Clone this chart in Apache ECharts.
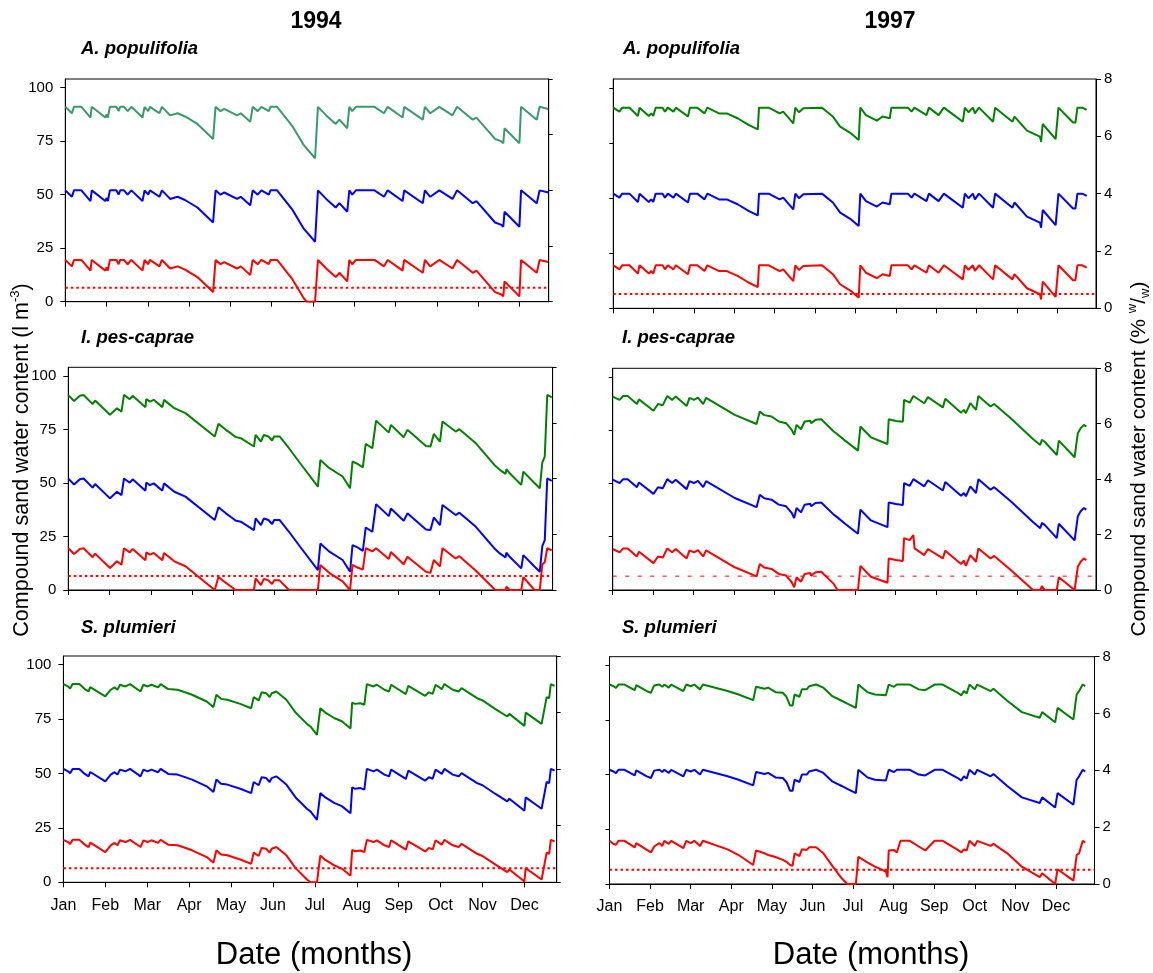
<!DOCTYPE html>
<html>
<head>
<meta charset="utf-8">
<title>Compound sand water content 1994 / 1997</title>
<script src="https://cdn.jsdelivr.net/npm/echarts@6/dist/echarts.min.js"></script>
<style>
  html, body { margin: 0; padding: 0; background: #fff; }
  #chart { width: 1153px; height: 973px; }
</style>
</head>
<body>
<div id="chart"></div>
<script>
// ---- axis ticks and labels ----
const monthNames = ['Jan', 'Feb', 'Mar', 'Apr', 'May', 'Jun', 'Jul', 'Aug', 'Sep', 'Oct', 'Nov', 'Dec'];
const monthTicks = [0, 1, 2, 3, 4, 5, 6, 7, 8, 9, 10, 11];
const lm3Ticks = [0, 25, 50, 75, 100];   // l m-3
const pctTicks = [0, 2, 4, 6, 8];        // % w/w

// threshold (dotted line)
const wiltLm3 = 6.5;
const wiltPct = 0.5;

// ---- 1994, A. populifolia (l m-3); x in months from 1 Jan ----
const apX94 = [0,0.16,0.21,0.39,0.61,0.64,0.97,1.00,1.03,1.08, 1.24,1.29,1.33,1.42,1.51, 1.60,1.87,1.92,2.01,2.05, 2.28,2.34,2.54,2.72,2.90, 3.20,3.58,3.64,3.76,3.85, 4.16,4.25,4.48,4.54,4.66, 4.75,4.93,4.97,5.13,5.50, 5.78,5.85,6.05,6.12,6.32, 6.55,6.64,6.83,6.88,6.95, 7.04,7.49,7.72,7.81,8.17, 8.21,8.66,8.71,8.84,9.06, 9.38,9.49,9.87,9.96,10.41, 10.55,10.61,10.64,11.00,11.04, 11.42,11.49,11.70];
const apHi94 = [91,88,91,91,86,91,86,87.5,86,91, 91,89,91,91,89, 91,86,91,89,91, 88,91,87,88,86.5, 83,76,91,89,90, 87,88,84,91,89, 91,89,91,91,82, 73,71.5,67,91,87, 83,85,81,91,89, 91,91,88,91,86, 91,85,91,88,91, 87,91,85,86,76, 75,74,81,74,91, 85,91,90];
const apMid94 = [52,49,52,52,47,52,47,48.5,47,52, 52,50,52,52,50, 52,47,52,50,52, 49,52,48,49,47.5, 44,37,52,50,51, 48,49,45,52,50, 52,50,52,52,43, 34,32.5,28,52,48, 44,46,42,52,50, 52,52,49,52,47, 52,46,52,49,52, 48,52,46,47,37, 36,35,42,35,52, 46,52,51];
const apLo94 = [19.5,16.5,19.5,19.5,14.5,19.5,14.5,16,14.5,19.5, 19.5,17.5,19.5,19.5,17.5, 19.5,14.5,19.5,17.5,19.5, 16.5,19.5,15.5,16.5,15, 11.5,4.5,19.5,17.5,18.5, 15.5,16.5,12.5,19.5,17.5, 19.5,17.5,19.5,19.5,10.5, 1.5,0,0,19.5,15.5, 11.5,13.5,9.5,19.5,17.5, 19.5,19.5,16.5,19.5,14.5, 19.5,13.5,19.5,16.5,19.5, 15.5,19.5,13.5,14.5,4.5, 3.5,2.5,9.5,2.5,19.5, 13.5,19.5,18.5];

// ---- 1997, A. populifolia (% w/w) ----
const apX97 = [0,0.15,0.22,0.40,0.61,0.65,0.88,0.94,0.99,1.05, 1.22,1.28,1.35,1.49,1.55, 1.85,1.90,2.08,2.26,2.33, 2.62,2.81,3.08,3.35,3.58, 3.61,3.85,4.12,4.21,4.46, 4.51,4.60,4.71,5.17,5.44, 5.62,5.89,6.08,6.12,6.26, 6.53,6.67,6.85,6.89,7.30, 7.39,7.46,7.76,7.82,8.06, 8.19,8.44,8.66,8.71,8.80, 8.91,8.96,9.06,9.41,9.46, 9.89,9.94,10.25,10.57,10.60, 10.64,10.96,11.03,11.39,11.45, 11.50,11.62,11.73];
const apHi97 = [7.0,6.86,7.0,7.0,6.71,7.0,6.71,6.8,6.71,7.0, 7.0,6.86,7.0,6.86,7.0, 6.69,7.0,7.0,6.8,7.0, 6.8,6.8,6.63,6.4,6.24, 7.0,7.0,6.8,6.86,6.45, 7.0,6.84,6.98,7.0,6.69, 6.34,6.1,5.87,7.0,6.74, 6.55,6.69,6.63,7.0,7.0, 6.86,7.0,6.74,7.0,6.74, 7.0,6.74,6.51,7.0,6.84, 7.0,6.8,7.0,6.51,7.0, 6.51,6.69,6.2,5.99,5.81, 6.43,5.9,7.0,6.48,6.48, 7.0,7.0,6.92];
const apMid97 = [4.0,3.86,4.0,4.0,3.71,4.0,3.71,3.8,3.71,4.0, 4.0,3.86,4.0,3.86,4.0, 3.69,4.0,4.0,3.8,4.0, 3.8,3.8,3.63,3.4,3.24, 4.0,4.0,3.8,3.86,3.45, 4.0,3.84,3.98,4.0,3.69, 3.34,3.1,2.87,4.0,3.74, 3.55,3.69,3.63,4.0,4.0, 3.86,4.0,3.74,4.0,3.74, 4.0,3.74,3.51,4.0,3.84, 4.0,3.8,4.0,3.51,4.0, 3.51,3.69,3.2,2.99,2.81, 3.43,2.9,4.0,3.48,3.48, 4.0,4.0,3.92];
const apLo97 = [1.5,1.36,1.5,1.5,1.21,1.5,1.21,1.3,1.21,1.5, 1.5,1.36,1.5,1.36,1.5, 1.19,1.5,1.5,1.3,1.5, 1.3,1.3,1.13,0.9,0.74, 1.5,1.5,1.3,1.36,0.95, 1.5,1.34,1.48,1.5,1.19, 0.84,0.6,0.37,1.5,1.24, 1.05,1.19,1.13,1.5,1.5, 1.36,1.5,1.24,1.5,1.24, 1.5,1.24,1.01,1.5,1.34, 1.5,1.3,1.5,1.01,1.5, 1.01,1.19,0.7,0.49,0.31, 0.93,0.4,1.5,0.98,0.98, 1.5,1.5,1.42];

// ---- 1994, I. pes-caprae (l m-3) ----
const ipX94 = [0,0.14,0.28,0.37,0.59,0.65,1.01,1.18,1.29,1.35, 1.49,1.56,1.87,1.89,1.98, 2.07,2.28,2.32,2.57,2.84, 3.55,3.64,3.82,3.95,4.05, 4.18,4.50,4.54,4.67,4.74, 4.85,4.94,4.99,5.12,5.35, 5.62,6.05,6.11,6.33,6.65, 6.83,6.89,7.01,7.14,7.21, 7.37,7.46,7.77,7.82,8.13, 8.22,8.67,8.78,8.86,9.01, 9.07,9.39,9.48,9.88,10.35, 10.46,10.60,10.62,10.70,10.98, 11.03,11.30,11.43,11.49,11.55, 11.61,11.72];
const ipHi94 = [91,88.3,90.7,91.1,86.8,88.5,81.8,84.9,83.3,91.1, 89.1,90.7,85.4,89.1,88.0, 88.8,85.4,88.8,84.9,82.6, 71.7,77.6,74.8,73,71.5, 70.9,67.0,72.4,69.3,72.4, 71.7,69.8,71.7,71.7,66.2, 59.2,48.3,60.7,56.9,53.0, 47.5,60.0,58.9,57.3,68.2, 66.2,79.1,73.5,77.1,71.3, 74.8,67.3,67.0,72.9,69.3, 78.7,74.0,75.1,68.5,58, 56.1,54.2,56.4,54.5,49.1, 55.3,50,47.5,59.5,62.3, 91.1,90.0];
const ipMid94 = [52,49.3,51.7,52.1,47.8,49.5,42.8,45.9,44.3,52.1, 50.1,51.7,46.4,50.1,49, 49.8,46.4,49.8,45.9,43.6, 32.7,38.6,35.8,34,32.5, 31.9,28,33.4,30.3,33.4, 32.7,30.8,32.7,32.7,27.2, 20.2,9.3,21.7,17.9,14, 8.5,21,19.9,18.3,29.2, 27.2,40.1,34.5,38.1,32.3, 35.8,28.3,28,33.9,30.3, 39.7,35,36.1,29.5,19, 17.1,15.2,17.4,15.5,10.1, 16.3,11,8.5,20.5,23.3, 52.1,51];
const ipLo94 = [19.5,16.8,19.2,19.5,15.3,17,10.3,13.4,11.8,19.5, 17.6,19.2,13.9,17.6,16.5, 17.3,13.9,17.3,13.4,11.1, 0,6.1,3.3,1.5,0, 0,0,5.4,2.3,5.2, 4.5,2.8,4.5,4.5,0, 0,0,11.7,7.9,4, 0,11.7,10.5,9.5,19.5, 18,19.5,14.5,17.7,12, 15.5,8.5,8,14,11, 19.5,14.7,15.8,9,0, 0,0,1.5,0,0, 6,0,0,12,13, 19.5,18.5];

// ---- 1997, I. pes-caprae (% w/w) ----
const ipX97 = [0,0.17,0.26,0.37,0.60,0.65,1.01,1.12,1.24,1.35, 1.47,1.56,1.83,1.90,2.01, 2.11,2.24,2.31,3.02,3.56, 3.64,3.75,3.93,4.11,4.29, 4.43,4.49,4.55,4.66,4.75, 4.89,4.91,5.02,5.16,5.47, 5.56,5.75,6.07,6.13,6.39, 6.80,6.83,7.01,7.18,7.21,7.35, 7.44,7.47,7.71,7.80,8.17, 8.23,8.62,8.69,8.74,8.85, 8.99,9.05,9.35,9.44,9.85, 10.40,10.58,10.62,10.69,10.99, 11.04,11.43,11.51,11.58,11.66, 11.72];
const ipHi97 = [6.98,6.86,7.0,7.0,6.71,6.88,6.47,6.71,6.67,7.0, 6.86,6.98,6.64,6.93,6.86, 6.94,6.71,6.93,6.32,5.99, 6.44,6.31,6.26,6.08,6.02, 5.78,5.6,5.96,5.8,6.08, 6.11,6.02,6.14,6.16,5.72, 5.62,5.39,5.03,5.9,5.51, 5.27,6.16,6.1,6.07,6.86,6.76, 7.0,6.96,6.74,6.96,6.59, 6.9,6.4,6.5,6.38,6.74, 6.5,7.0,6.62,6.71,6.2, 5.45,5.23,5.42,5.35,4.87, 5.39,4.79,5.66,5.84,5.96, 5.9];
const ipMid97 = [3.98,3.86,4.0,4.0,3.71,3.88,3.47,3.71,3.67,4.0, 3.86,3.98,3.64,3.93,3.86, 3.94,3.71,3.93,3.32,2.99, 3.44,3.31,3.26,3.08,3.02, 2.78,2.6,2.96,2.8,3.08, 3.11,3.02,3.14,3.16,2.72, 2.62,2.39,2.03,2.9,2.51, 2.27,3.16,3.1,3.07,3.86,3.76, 4.0,3.96,3.74,3.96,3.59, 3.9,3.4,3.5,3.38,3.74, 3.5,4.0,3.62,3.71,3.2, 2.45,2.23,2.42,2.35,1.87, 2.39,1.79,2.66,2.84,2.96, 2.9];
const ipLo97 = [1.48,1.36,1.5,1.5,1.21,1.38,0.97,1.21,1.17,1.5, 1.36,1.48,1.14,1.43,1.36, 1.44,1.21,1.43,0.82,0.49, 0.94,0.81,0.76,0.58,0.52, 0.28,0.1,0.46,0.3,0.58, 0.61,0.52,0.64,0.66,0.22, 0,0,0,0.87,0.48, 0.26,1.14,1.08,1.05,1.87,1.8, 1.98,1.5,1.26,1.48,1.14, 1.42,0.94,1.06,0.87,1.26, 1.02,1.5,1.14,1.23,0.72, 0,0,0.14,0,0, 0.46,0,0.84,1.02,1.14, 1.08];

// ---- 1994, S. plumieri (l m-3) ----
const spX94 = [0,0.11,0.16,0.22,0.38,0.51,0.60,0.64,1.00,1.04, 1.13,1.22,1.29,1.35,1.48, 1.59,1.84,1.91,2.01,2.10, 2.26,2.32,2.50,2.72,2.85, 3.07,3.42,3.58,3.65,3.76, 3.91,4.22,4.48,4.54,4.66, 4.73,4.84,4.92,4.97,5.08, 5.32,5.54,5.81,5.90,6.05, 6.13,6.25,6.47,6.56,6.65, 6.85,6.89,6.95,7.09,7.18, 7.24,7.40,7.48,7.66,7.77, 7.82,8.17,8.23,8.63,8.72, 8.81,8.88,9.03,9.09,9.29, 9.43,9.50,9.87,10.00,10.31, 10.59,10.64,11.00,11.03,11.41, 11.53,11.59,11.63,11.72];
const spHi94 = [91.1,90.0,89.1,91.1,91.1,88.8,87.7,89.7,85.4,86.2, 88.5,89.6,88.5,90.8,90.0, 91.1,87.7,90.8,90.0,90.8, 89.6,91.1,88.8,88.5,87.7, 86.2,83.1,80.5,86.2,84.3, 83.9,82.0,80.0,85.1,83.6, 87.3,86.9,85.1,86.9,87.7, 83.9,78.0,72.8,71.5,67.7, 80.0,78.0,75.4,74.7,73.9, 70.7,82.6,82.0,82.3,81.6, 91.1,90.0,90.8,88.5,87.7, 90.8,86.5,90.3,85.7,87.3, 86.6,90.8,88.8,91.1,88.5, 87.7,89.2,84.6,83.6,79.6, 76.2,77.4,71.9,78.0,72.8, 85.1,84.6,91.1,90.3];
const spMid94 = [52.1,51,50.1,52.1,52.1,49.8,48.7,50.7,46.4,47.2, 49.5,50.6,49.5,51.8,51, 52.1,48.7,51.8,51,51.8, 50.6,52.1,49.8,49.5,48.7, 47.2,44.1,41.5,47.2,45.3, 44.9,43,41,46.1,44.6, 48.3,47.9,46.1,47.9,48.7, 44.9,39,33.8,32.5,28.7, 41,39,36.4,35.7,34.9, 31.7,43.6,43,43.3,42.6, 52.1,51,51.8,49.5,48.7, 51.8,47.5,51.3,46.7,48.3, 47.6,51.8,49.8,52.1,49.5, 48.7,50.2,45.6,44.6,40.6, 37.2,38.4,32.9,39,33.8, 46.1,45.6,52.1,51.3];
const spLo94 = [19.5,18.5,17.6,19.5,19.5,17.3,16.2,18.2,13.9,14.7, 17,18.1,17,19.3,18.5, 19.5,16.2,19.3,18.5,19.3, 18.1,19.5,17.3,17,16.2, 14.7,11.6,9,14.7,12.8, 12.4,10.5,8.5,13.6,12.1, 15.8,15.4,13.6,15.4,16.2, 12.4,6.5,1.3,0,0, 12.3,10.3,7.7,7,6.2, 3,14.9,14.3,14.6,13.9, 19.5,18.5,19.3,17,16.2, 19.3,15,18.8,14.2,15.8, 15.1,19.3,17.3,19.5,17, 16.2,17.7,13.1,12.1,8.1, 4.7,5.9,0.4,6.5,1.3, 13.6,13.1,19.5,18.8];

// ---- 1997, S. plumieri (% w/w) ----
const spX97 = [0,0.10,0.16,0.22,0.37,0.62,0.66,0.92,1.02,1.10, 1.23,1.30,1.35,1.46,1.52, 1.82,1.89,2.00,2.09,2.23, 2.30,2.91,3.18,3.54,3.61, 3.82,3.91,4.09,4.27,4.36, 4.45,4.51,4.56,4.68,4.71, 4.74,4.86,4.92,5.09,5.27, 5.49,5.72,5.86,6.07,6.13, 6.36,6.54,6.81,6.85,6.88, 7.01,7.08,7.17,7.40,7.62, 7.78,8.01,8.21,8.58,8.67, 8.73,8.80,8.87,9.00,9.06, 9.39,9.46,9.80,10.16,10.60, 10.66,10.98,11.04,11.43,11.51, 11.57,11.66,11.72];
const spHi97 = [7.02,6.96,6.9,7.02,7.02,6.82,7.0,6.79,6.73,6.99, 7.02,6.94,7.02,6.91,7.02, 6.79,7.02,6.96,7.02,6.85, 7.02,6.79,6.67,6.47,6.94, 6.87,6.91,6.75,6.73,6.59, 6.28,6.28,6.67,6.59,6.52, 6.85,6.85,6.96,7.02,6.91, 6.61,6.45,6.35,6.2,7.02, 6.75,6.67,6.64,6.61,7.02, 6.94,7.02,7.02,7.02,6.85, 6.82,7.02,7.02,6.73,6.64, 6.79,6.71,7.02,6.85,7.02, 6.79,6.87,6.45,6.05,5.85, 6.05,5.69,6.2,5.79,6.67, 6.79,7.02,6.96];
const spMid97 = [4.02,3.96,3.9,4.02,4.02,3.82,4.0,3.79,3.73,3.99, 4.02,3.94,4.02,3.91,4.02, 3.79,4.02,3.96,4.02,3.85, 4.02,3.79,3.67,3.47,3.94, 3.87,3.91,3.75,3.73,3.59, 3.28,3.28,3.67,3.59,3.52, 3.85,3.85,3.96,4.02,3.91, 3.61,3.45,3.35,3.2,4.02, 3.75,3.67,3.64,3.61,4.02, 3.94,4.02,4.02,4.02,3.85, 3.82,4.02,4.02,3.73,3.64, 3.79,3.71,4.02,3.85,4.02, 3.79,3.87,3.45,3.05,2.85, 3.05,2.69,3.2,2.79,3.67, 3.79,4.02,3.96];
const spLo97 = [1.52,1.41,1.38,1.52,1.52,1.29,1.44,1.2,1.11,1.32, 1.44,1.34,1.52,1.41,1.52, 1.26,1.52,1.44,1.52,1.34, 1.52,1.22,1.02,0.67,1.18, 1.08,1.02,0.95,0.85,0.78, 0.67,0.64,1.08,0.98,0.94, 1.22,1.2,1.29,1.29,1.08, 0.64,0.2,0,0,0.96, 0.75,0.61,0.44,0.24,1.18, 1.2,1.11,1.52,1.52,1.32, 1.18,1.52,1.52,1.2,1.11, 1.22,1.18,1.52,1.34,1.52, 1.34,1.41,1.08,0.61,0.24, 0.38,0,0.52,0.12,1.02, 1.08,1.52,1.46];

// ---- layout ----
const FONT = '"Liberation Sans", Arial, Helvetica, sans-serif';
const RED = '#ff0000', BLUE = '#0000ff', GREEN = '#008000', TEAL = '#3b9a6b';

const panels = [
  { rect: { left: 65.3,  top: 79,    width: 483.4, height: 222.7 }, xMax: 11.71, unit: 'lm3', bottom: false,
    title: 'A. populifolia', titleXY: [81, 49],  x: apX94, hi: apHi94, mid: apMid94, lo: apLo94, hiColor: TEAL },
  { rect: { left: 613.3, top: 79,    width: 482.7, height: 229.3 }, xMax: 11.96, unit: 'pct', bottom: false,
    title: 'A. populifolia', titleXY: [623, 49], x: apX97, hi: apHi97, mid: apMid97, lo: apLo97, hiColor: GREEN },
  { rect: { left: 68.3,  top: 367.3, width: 484.3, height: 222.7 }, xMax: 11.74, unit: 'lm3', bottom: false,
    title: 'I. pes-caprae', titleXY: [81, 338],  x: ipX94, hi: ipHi94, mid: ipMid94, lo: ipLo94, hiColor: GREEN },
  { rect: { left: 612.7, top: 368.3, width: 483.3, height: 221.7 }, xMax: 11.96, unit: 'pct', bottom: false,
    title: 'I. pes-caprae', titleXY: [622, 338], x: ipX97, hi: ipHi97, mid: ipMid97, lo: ipLo97, hiColor: GREEN,
    thinThreshold: true },
  { rect: { left: 63.4,  top: 656,   width: 493.3, height: 226.3 }, xMax: 11.77, unit: 'lm3', bottom: true,
    title: 'S. plumieri', titleXY: [81, 628],    x: spX94, hi: spHi94, mid: spMid94, lo: spLo94, hiColor: GREEN },
  { rect: { left: 609.5, top: 656.7, width: 485,   height: 227.3 }, xMax: 11.95, unit: 'pct', bottom: true,
    title: 'S. plumieri', titleXY: [622, 628],   x: spX97, hi: spHi97, mid: spMid97, lo: spLo97, hiColor: GREEN }
];

const pairs = (xs, ys) => xs.map((x, i) => [x, ys[i]]);

const grids = [], xAxes = [], yAxes = [], series = [];

panels.forEach((p, i) => {
  grids.push(Object.assign({
    show: true, borderColor: '#000', borderWidth: 1, backgroundColor: 'transparent',
    containLabel: false, outerBoundsMode: 'none'
  }, p.rect));

  xAxes.push({
    gridIndex: i, type: 'value', min: 0, max: p.xMax,
    axisLine: { show: true, onZero: false, lineStyle: { color: '#000', width: 1 } },
    axisTick: { show: true, inside: false, length: 5, customValues: monthTicks, lineStyle: { color: '#000', width: 1 } },
    axisLabel: {
      show: p.bottom, customValues: monthTicks, margin: 15, fontSize: 16, color: '#000', fontFamily: FONT,
      formatter: v => monthNames[Math.round(v)] || ''
    },
    splitLine: { show: false }
  });

  const leftLabels = p.unit === 'lm3';
  yAxes.push({
    gridIndex: i, type: 'value', position: 'left', min: 0, max: 104,
    axisLine: { show: true, onZero: false, lineStyle: { color: '#000', width: 1 } },
    axisTick: { show: true, inside: false, length: leftLabels ? 5 : 4, customValues: lm3Ticks, lineStyle: { color: '#000' } },
    axisLabel: { show: leftLabels, customValues: lm3Ticks, margin: 12, fontSize: 15, color: '#000', fontFamily: FONT },
    splitLine: { show: false }
  });
  yAxes.push({
    gridIndex: i, type: 'value', position: 'right', min: 0, max: 8,
    axisLine: { show: true, onZero: false, lineStyle: { color: '#000', width: 1 } },
    axisTick: { show: true, inside: false, length: leftLabels ? 4 : 5, customValues: pctTicks, lineStyle: { color: '#000' } },
    axisLabel: { show: !leftLabels, customValues: pctTicks, margin: 8, fontSize: 15, color: '#000', fontFamily: FONT },
    splitLine: { show: false }
  });

  const yIdx = leftLabels ? 2 * i : 2 * i + 1;
  const thr = leftLabels ? wiltLm3 : wiltPct;
  const base = { type: 'line', xAxisIndex: i, yAxisIndex: yIdx, showSymbol: false, symbol: 'none',
                 silent: true, animation: false, clip: true };

  series.push(Object.assign({}, base, {
    data: [[0, thr], [p.xMax, thr]],
    lineStyle: p.thinThreshold ? { color: RED, width: 1, type: [4, 8.5] } : { color: RED, width: 2, type: [2.5, 3] },
    z: 1
  }));
  [[p.hi, p.hiColor], [p.mid, BLUE], [p.lo, RED]].forEach(([ys, c]) => {
    series.push(Object.assign({}, base, {
      data: pairs(p.x, ys),
      lineStyle: { color: c, width: 2 }, itemStyle: { color: c },
      z: 2
    }));
  });
});

// ---- text ----
const graphic = [
  { type: 'text', x: 316, y: 22, style: { text: '1994', fontSize: 23, fontWeight: 'bold', fontFamily: FONT, fill: '#000', align: 'center', verticalAlign: 'middle' } },
  { type: 'text', x: 890, y: 22, style: { text: '1997', fontSize: 23, fontWeight: 'bold', fontFamily: FONT, fill: '#000', align: 'center', verticalAlign: 'middle' } },
  { type: 'text', x: 314, y: 955, style: { text: 'Date (months)', fontSize: 31, fontFamily: FONT, fill: '#000', align: 'center', verticalAlign: 'middle' } },
  { type: 'text', x: 871, y: 955, style: { text: 'Date (months)', fontSize: 31, fontFamily: FONT, fill: '#000', align: 'center', verticalAlign: 'middle' } },
  {
    type: 'text', x: 22, y: 460, rotation: Math.PI / 2,
    style: {
      text: '{n|Compound sand water content (l m}{sup|-3}{n|)}',
      align: 'center', verticalAlign: 'middle',
      rich: {
        n: { fontSize: 21.5, fontFamily: FONT, fill: '#000', lineHeight: 26 },
        sup: { fontSize: 13, fontFamily: FONT, fill: '#000', verticalAlign: 'top', lineHeight: 14 }
      }
    }
  },
  {
    type: 'text', x: 1139, y: 459, rotation: Math.PI / 2,
    style: {
      text: '{n|Compound sand water content (% }{sup|w}{n|/}{sub|w}{n|)}',
      align: 'center', verticalAlign: 'middle',
      rich: {
        n: { fontSize: 21, fontFamily: FONT, fill: '#000', lineHeight: 26 },
        sup: { fontSize: 13, fontFamily: FONT, fill: '#000', verticalAlign: 'top', lineHeight: 14 },
        sub: { fontSize: 13, fontFamily: FONT, fill: '#000', verticalAlign: 'bottom', lineHeight: 14 }
      }
    }
  }
];
panels.forEach(p => {
  graphic.push({
    type: 'text', x: p.titleXY[0], y: p.titleXY[1],
    style: { text: p.title, fontSize: 18.5, fontWeight: 'bold', fontStyle: 'italic', fontFamily: FONT, fill: '#000',
             align: 'left', verticalAlign: 'middle' }
  });
});

const chart = echarts.init(document.getElementById('chart'), null, { renderer: 'canvas' });
chart.setOption({
  backgroundColor: '#fff',
  animation: false,
  grid: grids,
  xAxis: xAxes,
  yAxis: yAxes,
  series: series,
  graphic: graphic
});
</script>
</body>
</html>
